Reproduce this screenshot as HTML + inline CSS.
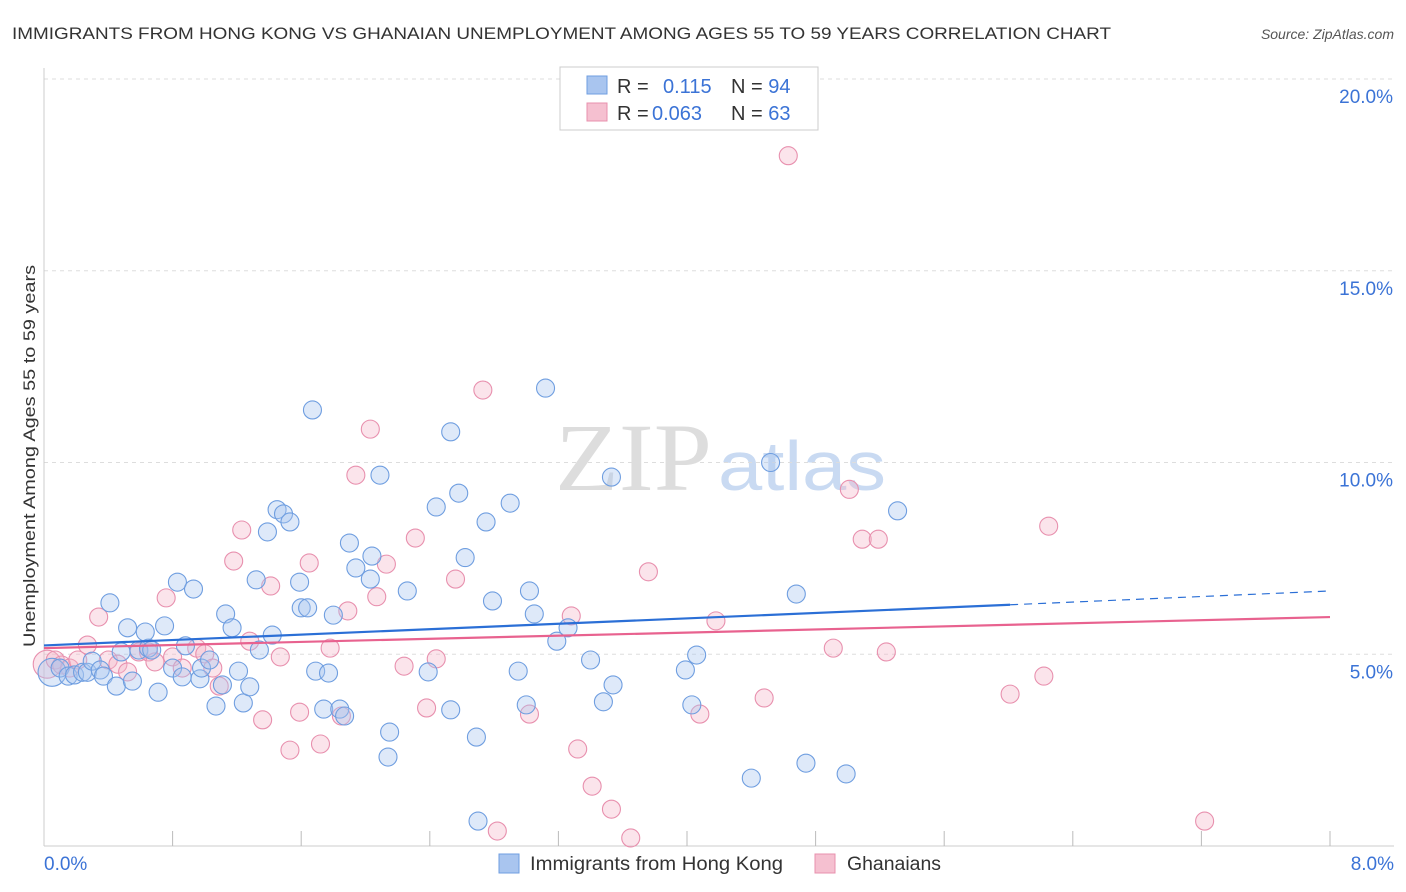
<!DOCTYPE html>
<html><head><meta charset="utf-8"><style>
body{margin:0;background:#fff;font-family:"Liberation Sans",sans-serif;}
svg{display:block}
</style></head><body>
<svg width="1406" height="892">
<text x="12" y="39" font-size="17" fill="#333" textLength="1099" lengthAdjust="spacingAndGlyphs">IMMIGRANTS FROM HONG KONG VS GHANAIAN UNEMPLOYMENT AMONG AGES 55 TO 59 YEARS CORRELATION CHART</text>
<text x="1394" y="39" font-size="14" fill="#555" font-style="italic" text-anchor="end">Source: ZipAtlas.com</text>
<text x="555" y="490" font-size="96" fill="#ddd" font-family="Liberation Serif,serif" textLength="157" lengthAdjust="spacingAndGlyphs">ZIP</text>
<text x="718" y="490" font-size="70" fill="#c9daf2" textLength="168" lengthAdjust="spacingAndGlyphs">atlas</text>
<g id="grid"></g>
<g id="axes"></g>
<g id="marks"></g>
<text x="35" y="456" font-size="17" fill="#333" transform="rotate(-90 35 456)" text-anchor="middle" textLength="382" lengthAdjust="spacingAndGlyphs">Unemployment Among Ages 55 to 59 years</text>
<text x="44" y="870" font-size="19" fill="#3b73d6">0.0%</text>
<text x="1394" y="870" font-size="19" fill="#3b73d6" text-anchor="end">8.0%</text>
<g>
<rect x="560" y="67" width="258" height="63" fill="#fff" stroke="#ccc"/>
<rect x="587" y="76" width="20" height="18" fill="#a9c5ef" stroke="#6f9ee0"/>
<rect x="587" y="103" width="20" height="18" fill="#f5c0d0" stroke="#e890ae"/>
<text x="617" y="93" font-size="20" fill="#333">R = <tspan x="663" fill="#3b73d6">0.115</tspan><tspan x="731">N = </tspan><tspan fill="#3b73d6">94</tspan></text>
<text x="617" y="120" font-size="20" fill="#333">R = <tspan x="652" fill="#3b73d6">0.063</tspan><tspan x="731">N = </tspan><tspan fill="#3b73d6">63</tspan></text>
</g>
<g>
<rect x="499" y="854" width="20" height="19" fill="#a9c5ef" stroke="#6f9ee0"/>
<text x="530" y="870" font-size="19" fill="#333" textLength="253" lengthAdjust="spacingAndGlyphs">Immigrants from Hong Kong</text>
<rect x="815" y="854" width="20" height="19" fill="#f5c0d0" stroke="#e890ae"/>
<text x="847" y="870" font-size="19" fill="#333" textLength="94" lengthAdjust="spacingAndGlyphs">Ghanaians</text>
</g>
</svg>
<script>
const yTicks=[5,10,15,20];
const xTickCount=10;
const blueX=[0.05,0.1,0.15,0.19,0.24,0.27,0.3,0.35,0.37,0.41,0.45,0.48,0.52,0.55,0.59,0.63,0.65,0.67,0.71,0.75,0.8,0.83,0.86,0.88,0.93,0.97,0.98,1.03,1.07,1.11,1.13,1.17,1.21,1.24,1.28,1.32,1.34,1.39,1.42,1.45,1.49,1.53,1.59,1.6,1.64,1.67,1.69,1.74,1.77,1.8,1.84,1.87,1.9,1.94,2.03,2.04,2.09,2.15,2.14,2.26,2.39,2.44,2.53,2.53,2.58,2.62,2.69,2.7,2.75,2.79,2.9,2.95,3.0,3.02,3.05,3.12,3.19,3.26,3.4,3.48,3.53,3.54,3.99,4.03,4.06,4.4,4.52,4.68,4.74,4.99,5.31];
const blueY=[4.53,4.64,4.43,4.46,4.53,4.53,4.82,4.59,4.43,6.34,4.17,5.06,5.69,4.3,5.11,5.58,5.16,5.11,4.01,5.74,4.64,6.88,4.41,5.22,6.7,4.36,4.64,4.85,3.65,4.2,6.05,5.69,4.56,3.73,4.15,6.94,5.11,8.19,5.5,8.77,8.66,8.45,6.88,6.21,6.21,11.37,4.56,3.57,4.51,6.02,3.57,3.39,7.9,7.25,6.96,7.56,9.67,2.97,2.32,6.65,4.54,8.84,3.55,10.8,9.2,7.52,2.84,0.65,8.45,6.39,8.94,4.56,3.68,6.65,6.05,11.94,5.34,5.69,4.85,3.76,9.62,4.2,4.59,3.68,4.98,1.77,10.0,6.57,2.16,1.88,8.74];
const pinkX=[0.02,0.07,0.11,0.16,0.21,0.27,0.34,0.4,0.46,0.52,0.59,0.65,0.69,0.76,0.8,0.86,0.95,1.0,1.05,1.09,1.18,1.23,1.28,1.36,1.41,1.47,1.53,1.59,1.65,1.72,1.78,1.85,1.89,1.94,2.03,2.07,2.13,2.24,2.31,2.38,2.44,2.56,2.73,2.82,3.02,3.28,3.32,3.41,3.53,3.65,3.76,4.18,4.48,4.08,4.63,4.91,5.01,5.09,5.19,5.24,6.01,6.22,6.25,7.22];
const pinkY=[4.74,4.85,4.72,4.64,4.85,5.24,5.97,4.85,4.74,4.54,5.06,5.06,4.8,6.47,4.93,4.64,5.16,5.01,4.64,4.17,7.43,8.24,5.34,3.29,6.78,4.93,2.5,3.49,7.38,2.66,5.16,3.39,6.13,9.67,10.87,6.5,7.35,4.69,8.03,3.6,4.88,6.96,11.89,0.39,3.44,6.0,2.53,1.56,0.96,0.21,7.15,5.87,3.86,3.44,18.0,5.16,9.3,8.0,8.0,5.06,3.96,4.43,8.34,0.65];
const blueLine=[[0,5.23],[6.01,6.29]];
const blueDash=[[6.01,6.29],[8,6.65]];
const pinkLine=[[0,5.16],[8,5.97]];
const NS="http://www.w3.org/2000/svg";
const X0=44,X1=1330,Y0=846,PX=38.35;
function sx(v){return X0+(X1-X0)*v/8;}
function sy(v){return Y0-v*PX;}
function mk(tag,attrs,parent){const e=document.createElementNS(NS,tag);for(const k in attrs)e.setAttribute(k,attrs[k]);document.getElementById(parent).appendChild(e);return e;}
let g=mk('line',{x1:44,y1:79,x2:1394,y2:79,stroke:'#ddd','stroke-dasharray':'4 4'},'grid');


yTicks.forEach(t=>{
 const l=mk('line',{x1:44,y1:sy(t),x2:1394,y2:sy(t),stroke:'#ddd','stroke-dasharray':'4 4'},'grid');
 
 
 const tx=mk('text',{x:1393,y:sy(t)+24,'font-size':19,fill:'#3b73d6','text-anchor':'end'},'grid');
 tx.textContent=t.toFixed(1)+'%';
 
 
});
let ax=mk('line',{x1:44,y1:68,x2:44,y2:846,stroke:'#ccc'},'axes');


ax=mk('line',{x1:44,y1:846,x2:1394,y2:846,stroke:'#ccc'},'axes');


for(let i=1;i<=xTickCount;i++){
 const x=sx(8*i/xTickCount);
 const t=mk('line',{x1:x,y1:831,x2:x,y2:846,stroke:'#bbb'},'axes');
 
 
}
function pts(xs,ys,fill,stroke,name){
 xs.forEach((v,i)=>{
  const c=mk('circle',{cx:sx(v),cy:sy(ys[i]),r:i===0?14:9,fill:fill,'fill-opacity':0.38,stroke:stroke,'stroke-width':1.1},'marks');
  
  
 });
}
pts(pinkX,pinkY,'#f5b8cb','#e890ae','ghanaians-point');
pts(blueX,blueY,'#a9c5ef','#6f9ee0','hong-kong-point');
function ln(p,color,dash,name){
 const l=mk('line',{x1:sx(p[0][0]),y1:sy(p[0][1]),x2:sx(p[1][0]),y2:sy(p[1][1]),stroke:color,'stroke-width':dash?1.2:2.2,'stroke-dasharray':dash?'8 6':'none'},'marks');
 
 
}
ln(blueLine,'#2b6fd6',false,'hong-kong-trend-line');
ln(blueDash,'#2b6fd6',true,'hong-kong-trend-extension');
ln(pinkLine,'#e8628f',false,'ghanaians-trend-line');
</script>
</body></html>
